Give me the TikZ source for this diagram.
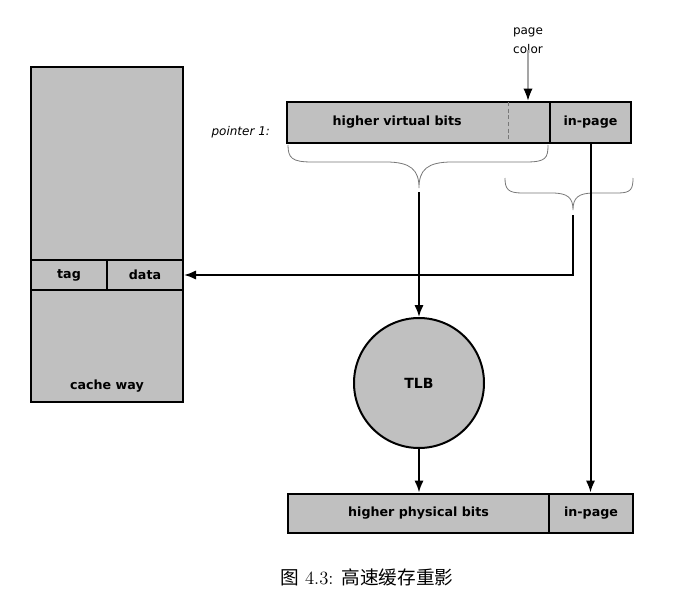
\documentclass[tikz,border=0pt]{standalone}
\usepackage{fontspec}
\setsansfont{DejaVu Sans}
\newfontfamily\cjk{Noto Sans CJK SC}
\usetikzlibrary{arrows.meta}
\definecolor{boxgray}{RGB}{192,192,192}
\definecolor{bracegray}{RGB}{120,120,120}
\definecolor{linegray}{RGB}{165,165,165}
\begin{document}
\begin{tikzpicture}[x=0.75pt,y=-0.75pt,line width=1.5pt,
	box/.style={draw,fill=boxgray,rectangle,inner sep=0pt,font=\sffamily\bfseries\fontsize{9.5}{11}\selectfont},
	bit/.style={box,minimum height=41*0.75pt},
	note/.style={font=\sffamily\fontsize{9}{11}\selectfont,inner sep=0pt},
	link/.style={-{Latex[length=9pt,width=7pt]}},
	brace/.style={draw=bracegray,line width=0.6pt}]
	\useasboundingbox (0,0) rectangle (686,600);
	% cache way
		\node[box,minimum width=152*0.75pt,minimum height=335*0.75pt] (way) at (107,234.5) {};
		\node[box,minimum width=76*0.75pt,minimum height=30*0.75pt] (tag) at (69,275) {tag};
		\node[box,minimum width=76*0.75pt,minimum height=30*0.75pt] (data) at (145,275) {data};
		\node[font=\sffamily\bfseries\fontsize{9.5}{11}\selectfont] (waylabel) at (107,386) {cache way};
	% pointer 1
		\node[note,font=\sffamily\itshape\fontsize{9}{11}\selectfont,anchor=east] (ptr) at (271,132) {pointer 1:};
		\node[bit,minimum width=263*0.75pt] (vbits) at (418.5,122) {higher virtual bits\hspace*{32pt}};
		\node[bit,minimum width=81*0.75pt] (vpage) at (590.5,122) {in-page};
		\draw[dashed,dash pattern=on 3pt off 2pt,line width=0.6pt,draw=bracegray] (508,102) -- (508,141);
	% page color
		\node[note,align=center] (color) at (528,41) {page\\[3.5pt]color};
		\draw[-{Latex[length=9pt,width=7pt,color=black]},draw=linegray,line width=0.8pt] (color.south) ++(0,-5) -- (color.south |- vbits.north);
	% braces
		\draw[brace] (288,145) .. controls (288,158) and (292,162) .. (312,162) -- (386,162)
			.. controls (411,162) and (419,170) .. (419,188)
			.. controls (419,170) and (427,162) .. (452,162) -- (526,162)
			.. controls (546,162) and (548,158) .. (548,145);
		\coordinate (vtip) at (419,192);
		\draw[brace] (505,178) .. controls (505,189) and (508,193) .. (522,193) -- (552,193)
			.. controls (568,193) and (573,198) .. (573,210)
			.. controls (573,198) and (578,193) .. (594,193) -- (618,193)
			.. controls (631,193) and (633,189) .. (633,178);
		\coordinate (ptip) at (573,215);
	% TLB
		\node[draw,fill=boxgray,circle,minimum size=130*0.75pt,inner sep=0pt,font=\sffamily\bfseries\fontsize{10.5}{12}\selectfont] (tlb) at (419,383) {TLB};
	% physical address
		\node[bit,minimum width=261*0.75pt,minimum height=39*0.75pt] (pbits) at (418.5,513) {higher physical bits};
		\node[bit,minimum width=84*0.75pt,minimum height=39*0.75pt] (ppage) at (591,513) {in-page};
	% connectors
		\draw[link] (vtip) -- (tlb.north);
		\draw[link] (tlb.south) -- (tlb.south |- pbits.north);
		\draw[link] (ptip) |- (data.east);
		\draw[link] (vpage.south) -- (vpage.south |- ppage.north);
	% caption
		\node[font=\fontsize{14}{16}\selectfont] (caption) at (367,577) {{\cjk 图} 4.3: {\cjk 高速缓存重影}};
\end{tikzpicture}
\end{document}
